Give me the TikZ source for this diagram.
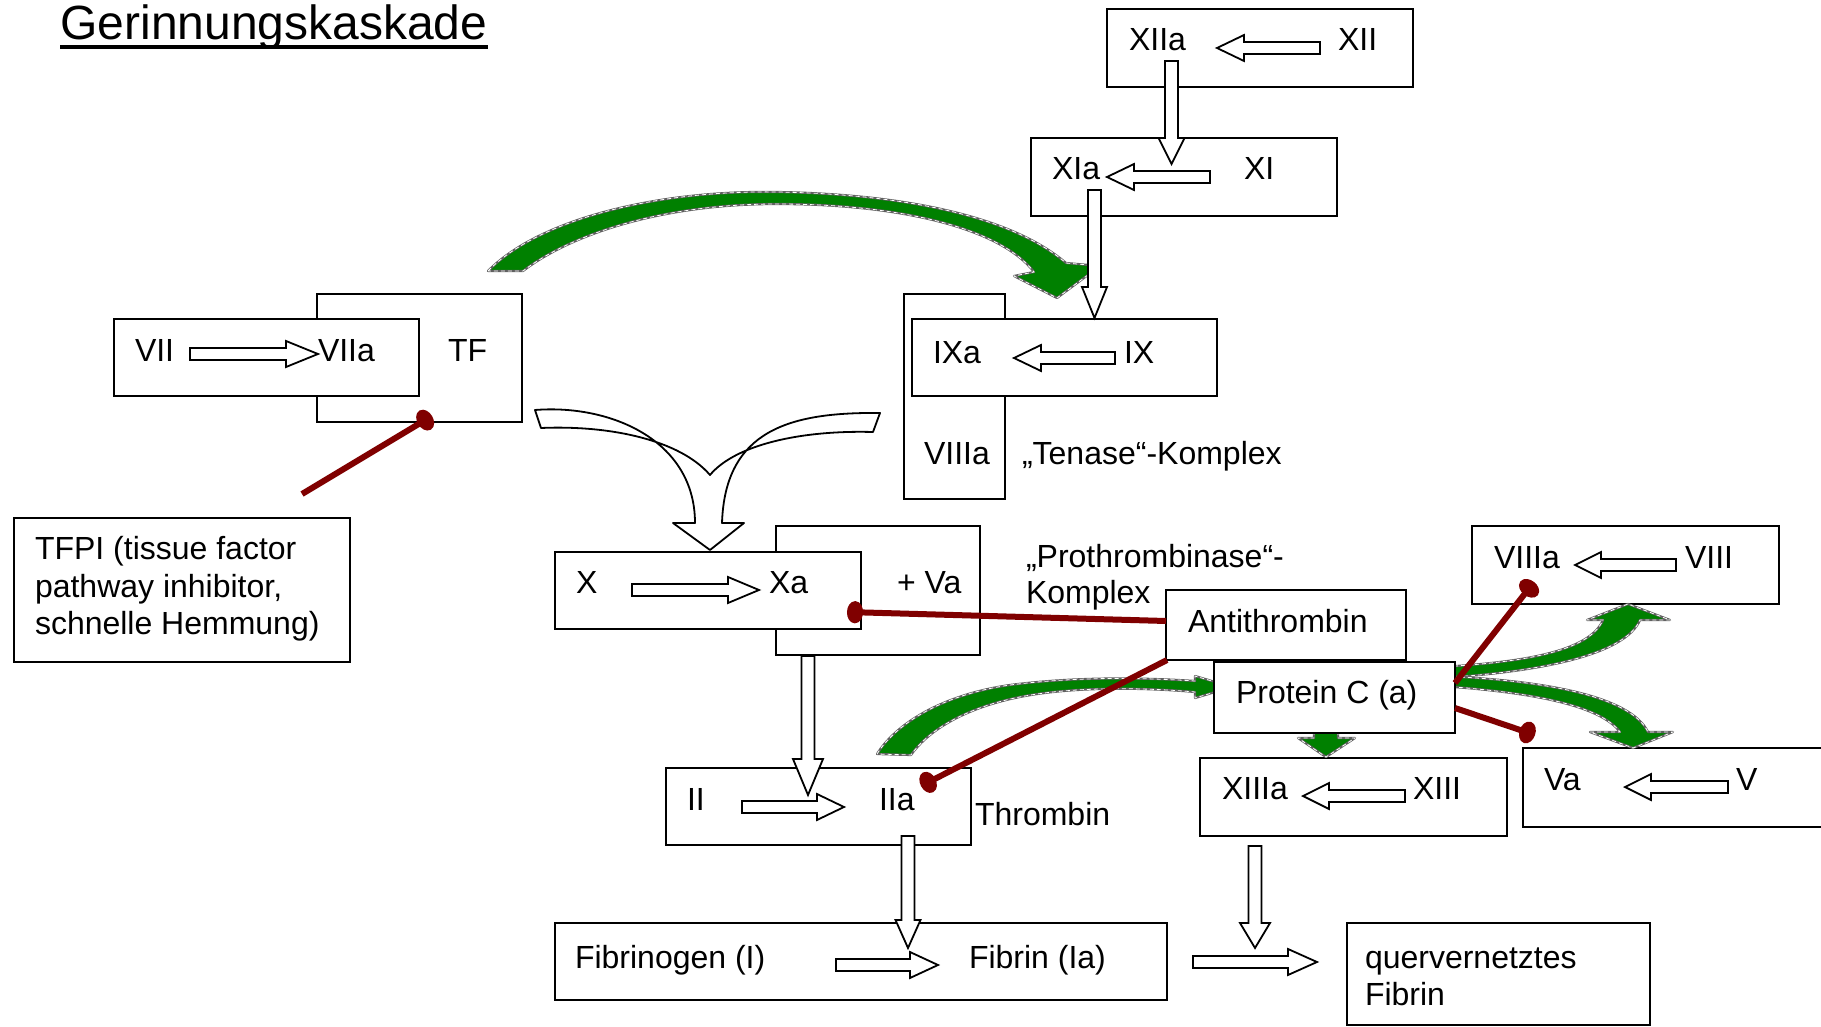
\documentclass[tikz,border=0pt]{standalone}
\usepackage{fontspec}
\setmainfont{Liberation Sans}
\usetikzlibrary{arrows.meta}
\definecolor{pgreen}{RGB}{0,128,0}
\definecolor{inhred}{RGB}{128,0,0}
\newcommand\BoxN[5]{\node[box, minimum width={(#4-#2)*0.5pt}, minimum height={(#5-#3)*0.5pt}] (#1) at ({(#2+#4)/2},{(#3+#5)/2}) {};}
\newcommand\Lbl[4]{\node[lbl] (#1) at (#2,#3) {#4};}
\newcommand\HArr[4]{\draw[blk] (#1,{#3-6}) -- ({#2-(#4)},{#3-6}) -- ({#2-(#4)},{#3-13}) -- (#2,#3) -- ({#2-(#4)},{#3+13}) -- ({#2-(#4)},{#3+6}) -- (#1,{#3+6}) -- cycle;}
\newcommand\VArr[5]{\draw[blk] ({#1-6.5},#2) -- ({#1-6.5},{#3-(#4)}) -- ({#1-(#5)},{#3-(#4)}) -- (#1,#3) -- ({#1+(#5)},{#3-(#4)}) -- ({#1+6.5},{#3-(#4)}) -- ({#1+6.5},#2) -- cycle;}
\newcommand\GShape[1]{\fill[pgreen] #1; \draw[gray!75!black, line width=1.1pt, line join=round] #1; \draw[white, line width=0.4pt, dash pattern=on 2pt off 1.5pt] #1;}
\tikzset{
  box/.style={draw=black, fill=white, line width=1pt, inner sep=0pt, outer sep=0pt},
  lbl/.style={anchor=base west, inner sep=0pt, outer sep=0pt, font=\fontsize{16}{19}\selectfont},
  blk/.style={draw=black, fill=white, line width=0.9pt, line join=miter},
  inhib/.style={draw=inhred, line width=3pt, -{Ellipse[length=8pt,width=11pt]}},
}
\begin{document}
\begin{tikzpicture}[x=0.5pt,y=-0.5pt]
\useasboundingbox (0,0) rectangle (1821,1027);
\clip (0,0) rectangle (1821,1027);
\fill[white] (0,0) rectangle (1821,1027);

% title
\node[anchor=base west, inner sep=0pt, font=\fontsize{24}{28}\selectfont] (title) at (60,40) {Gerinnungskaskade};
\draw[line width=1.6pt] ([yshift=-3.5pt]title.base west) -- ([yshift=-3.5pt]title.base east);

% boxes (back layer)
\BoxN{tf}{317}{294}{522}{422}
\BoxN{vii}{114}{319}{419}{396}
\BoxN{tfpi}{14}{518}{350}{662}
\BoxN{viiit}{904}{294}{1005}{499}
\BoxN{ix}{912}{319}{1217}{396}
\BoxN{xii}{1107}{9}{1413}{87}
\BoxN{xi}{1031}{138}{1337}{216}
\BoxN{vax}{776}{526}{980}{655}
\BoxN{xb}{555}{552}{861}{629}
\BoxN{ii}{666}{768}{971}{845}
\BoxN{fib}{555}{923}{1167}{1000}
\BoxN{qfib}{1347}{923}{1650}{1025}
\BoxN{xiii}{1200}{758}{1507}{836}
\BoxN{var}{1523}{748}{1840}{827}
\BoxN{viii}{1472}{526}{1779}{604}

% green arrows
\GShape{(488,271) .. controls (540,218) and (660,190) .. (777,192) .. controls (900,194) and (1010,215) .. (1066,263) -- (1100,266) -- (1057,298) -- (1014,276) -- (1034,272) .. controls (1000,228) and (900,204) .. (777,204) .. controls (660,204) and (570,235) .. (523,271) -- cycle}
\GShape{(877,754) .. controls (895,725) and (940,695) .. (1010,685) .. controls (1080,676) and (1150,678) .. (1195,681) -- (1195,676) -- (1232,687) -- (1195,698) -- (1195,692) .. controls (1150,688) and (1080,686) .. (1025,696) .. controls (970,706) and (930,728) .. (911,755) -- cycle}
\GShape{(1440,667) .. controls (1530,662) and (1590,650) .. (1603,620) -- (1587,620) -- (1628,604) -- (1670,620) -- (1640,620) .. controls (1625,655) and (1540,672) .. (1440,678) -- cycle}
\GShape{(1440,676) .. controls (1540,680) and (1630,695) .. (1648,732) -- (1673,732) -- (1633,748) -- (1590,732) -- (1620,732) .. controls (1600,705) and (1530,692) .. (1440,686) -- cycle}
\GShape{(1314,720) -- (1338,720) -- (1338,738) -- (1355,738) -- (1326,757) -- (1298,738) -- (1314,738) -- cycle}

% boxes (front layer)
\BoxN{at}{1166}{590}{1406}{660}
\BoxN{pc}{1214}{662}{1455}{733}

% white block arrows
\HArr{1320}{1217}{48}{-27}
\HArr{1210}{1107}{177}{-27}
\HArr{1115}{1014}{358}{-27}
\HArr{190}{318}{354}{32}
\HArr{632}{759}{590}{31}
\HArr{742}{844}{807}{27}
\HArr{1405}{1303}{796}{-26}
\HArr{1728}{1625}{787}{-26}
\HArr{1676}{1575}{565}{-26}
\HArr{836}{938}{965}{28}
\HArr{1193}{1317}{962}{29}
\VArr{1171.5}{61}{164}{26}{13}
\VArr{1094.5}{190}{318}{31}{12.5}
\VArr{808}{656}{795}{36}{15}
\VArr{908}{836}{948}{28}{12.5}
\VArr{1255}{846}{948}{25}{15}

% Y-shaped arrow into X
\draw[blk, line join=round] (535,410) .. controls (610,404) and (695,440) .. (695,523) -- (673,523) -- (710,550) -- (744,523) -- (722,523) .. controls (725,430) and (790,412) .. (880,413) -- (873,432) .. controls (800,430) and (735,445) .. (710,475) .. controls (680,440) and (610,425) .. (541,428) -- cycle;

% labels
\Lbl{tXIIa}{1129}{51}{XIIa}
\Lbl{tXII}{1338}{51}{XII}
\Lbl{tXIa}{1052}{180}{XIa}
\Lbl{tXI}{1244}{180}{XI}
\Lbl{tIXa}{933}{364}{IXa}
\Lbl{tIX}{1124}{364}{IX}
\Lbl{tVIIIat}{924}{464}{VIIIa}
\Lbl{tTen}{1022}{464}{„Tenase“-Komplex}
\Lbl{tVII}{135}{361}{VII}
\Lbl{tVIIa}{318}{361}{VIIa}
\Lbl{tTF}{448}{361}{TF}
\Lbl{tTFPIa}{35}{559}{TFPI (tissue factor}
\Lbl{tTFPIb}{35}{597}{pathway inhibitor,}
\Lbl{tTFPIc}{35}{634}{schnelle Hemmung)}
\Lbl{tX}{576}{593}{X}
\Lbl{tXa}{769}{593}{Xa}
\Lbl{tVaX}{897}{593}{+ Va}
\Lbl{tPro}{1026}{567}{„Prothrombinase“-}
\Lbl{tKom}{1026}{603}{Komplex}
\Lbl{tAT}{1188}{632}{Antithrombin}
\Lbl{tPC}{1236}{703}{Protein C (a)}
\Lbl{tVIIIa}{1494}{568}{VIIIa}
\Lbl{tVIII}{1685}{568}{VIII}
\Lbl{tXIIIa}{1222}{799}{XIIIa}
\Lbl{tXIII}{1413}{799}{XIII}
\Lbl{tVa}{1544}{790}{Va}
\Lbl{tV}{1736}{790}{V}
\Lbl{tII}{687}{810}{II}
\Lbl{tIIa}{879}{810}{IIa}
\Lbl{tThr}{975}{825}{Thrombin}
\Lbl{tFbg}{575}{968}{Fibrinogen (I)}
\Lbl{tFbn}{969}{968}{Fibrin (Ia)}
\Lbl{tQa}{1365}{968}{quervernetztes}
\Lbl{tQb}{1365}{1005}{Fibrin}

% inhibition connectors
\coordinate (tfpiS) at (302,494);
\coordinate (tfE) at (432,416);
\coordinate (atS1) at (1166,621);
\coordinate (xaE) at (847,612);
\coordinate (atS2) at (1167,660);
\coordinate (iiaE) at (921,786);
\coordinate (pcS1) at (1455,683);
\coordinate (viiiE) at (1534,582);
\coordinate (pcS2) at (1455,708);
\coordinate (vaE) at (1535,735);
\draw[inhib] (tfpiS) -- (tfE);
\draw[inhib] (atS1) -- (xaE);
\draw[inhib] (atS2) -- (iiaE);
\draw[inhib] (pcS1) -- (viiiE);
\draw[inhib] (pcS2) -- (vaE);
\end{tikzpicture}
\end{document}
